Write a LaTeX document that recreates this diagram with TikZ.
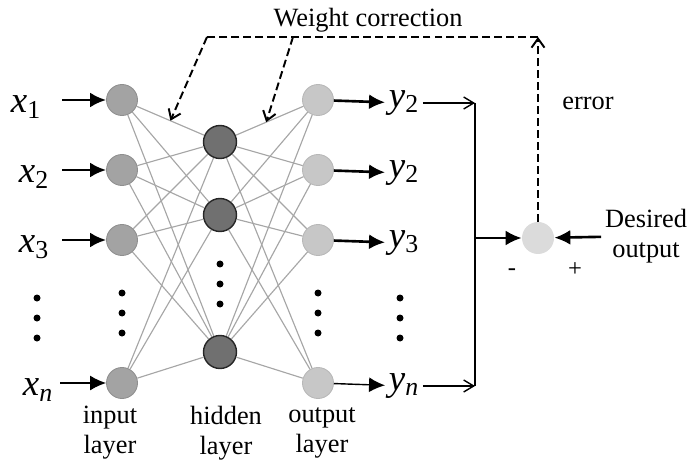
\documentclass[tikz,border=0pt]{standalone}
\usepackage{fontspec}
\setmainfont{Liberation Serif}
\usetikzlibrary{
    arrows.meta,
    positioning
}

\begin{document}
\begin{tikzpicture}[
    x=0.2mm,
    y=-0.2mm,
    font=\fontsize{15}{17}\selectfont,
    neuron/.style={
        circle,
        minimum size=6.2mm,
        inner sep=0pt
    },
    innode/.style={
        neuron,
        fill=black!36,
        draw=black!44,
        line width=0.5pt
    },
    hidnode/.style={
        neuron,
        minimum size=6.6mm,
        fill=black!56,
        draw=black!85,
        line width=0.8pt
    },
    outnode/.style={
        neuron,
        fill=black!22,
        draw=black!28,
        line width=0.5pt
    },
    sumnode/.style={
        neuron,
        minimum size=6.4mm,
        fill=black!14
    },
    var/.style={
        font=\fontsize{21}{23}\selectfont,
        inner sep=2pt
    },
    link/.style={
        draw=black!35,
        line width=0.65pt
    },
    arrow/.style={
        -{Latex[length=3.2mm,width=3mm]},
        line width=1.5pt
    },
    thinarrow/.style={
        -{Latex[length=3.2mm,width=3mm]},
        line width=0.8pt
    },
    openarrow/.style={
        -{Straight Barb[length=2mm,width=2.4mm]},
        line width=0.8pt
    },
    feedback/.style={
        -{Straight Barb[length=1.8mm,width=2.6mm]},
        line width=1.1pt,
        dash pattern=on 4.5pt off 2.3pt
    },
    note/.style={
        align=center,
        inner sep=2pt
    },
    sign/.style={
        note,
        font=\fontsize{14}{16}\selectfont
    }
]
\useasboundingbox (0,0) rectangle (690,463);

% =========================================================
% Neurons
% =========================================================
\foreach \n/\y in {1/100, 2/170, 3/240, 4/383} {
    \node[innode] (in\n) at (122,\y) {};
    \node[outnode] (out\n) at (318,\y) {};
}
\foreach \n/\y in {1/142, 2/215, 3/352}
    \node[hidnode] (hid\n) at (220,\y) {};

\node[sumnode] (sum) at (538,238) {};

% =========================================================
% Weights
% =========================================================
\foreach \i in {1,...,4}
    \foreach \h in {1,2,3} {
        \draw[link] (in\i) -- (hid\h);
        \draw[link] (hid\h) -- (out\i);
    }

% =========================================================
% Inputs and outputs
% =========================================================
\foreach \n/\lx/\y/\s in {1/26/100/1, 2/34/170/2, 3/34/240/3} {
    \node[var] (x\n) at (\lx,\y+7) {\textit{x}\textsubscript{\s}};
    \coordinate (xa\n) at (62,\y);
    \draw[arrow] (xa\n) -- (in\n);
}
\node[var] (x4) at (38,390) {\textit{x}\textsubscript{\textit{n}}};
\coordinate (xa4) at (60,383);
\draw[thinarrow] (xa4) -- (in4);

\node[var] (y1) at (404,103) {\textit{y}\textsubscript{2}};
\node[var] (y2) at (404,173) {\textit{y}\textsubscript{2}};
\node[var] (y3) at (404,243) {\textit{y}\textsubscript{3}};
\node[var] (y4) at (404,386) {\textit{y}\textsubscript{\textit{n}}};

\draw[arrow] (out1) -- (y1);
\draw[arrow] (out2) -- (y2);
\draw[arrow] (out3) -- (y3);
\draw[thinarrow] (out4) -- (y4);

% vertical dots
\foreach \cx/\cy in {37/298, 122/293, 220/264, 318/293, 400/298}
    \foreach \k in {0,1,2}
        \fill (\cx,\cy+\k*20) circle[radius=0.7mm];

% =========================================================
% Error computation
% =========================================================
\coordinate (bus) at (475,238);
\draw[line width=0.8pt] (y1 -| bus) -- (y4 -| bus);
\draw[openarrow] (y1) -- (y1 -| bus);
\draw[openarrow] (y4) -- (y4 -| bus);
\draw[arrow] (bus) -- (sum);

\node[note] (desired) at (646,236) {Desired\\output};
\draw[arrow] (desired) -- (sum);

\node[sign] (minus) at (512,272) {-};
\node[sign] (plus) at (575,270) {+};
\node[note] (error) at (588,103) {error};

% =========================================================
% Weight correction feedback
% =========================================================
\coordinate (corner) at (538,37);
\coordinate (wc1) at (207,37);
\coordinate (wc2) at (293,37);
\path (in1) -- (hid1) coordinate[pos=0.5] (t1);
\path (hid1) -- (out1) coordinate[pos=0.45] (t2);

\draw[feedback] (sum) -- (corner);
\draw[feedback, -] (corner) -- (wc1);
\draw[feedback] (wc1) -- (t1);
\draw[feedback] (wc2) -- (t2);

\node[note] (wlabel) at (368,20) {Weight correction};

% =========================================================
% Layer names
% =========================================================
\node[note] (inlayer) at (110,433) {input\\layer};
\node[note] (hidlayer) at (226,433) {hidden\\layer};
\node[note] (outlayer) at (322,433) {output\\layer};

\end{tikzpicture}
\end{document}
